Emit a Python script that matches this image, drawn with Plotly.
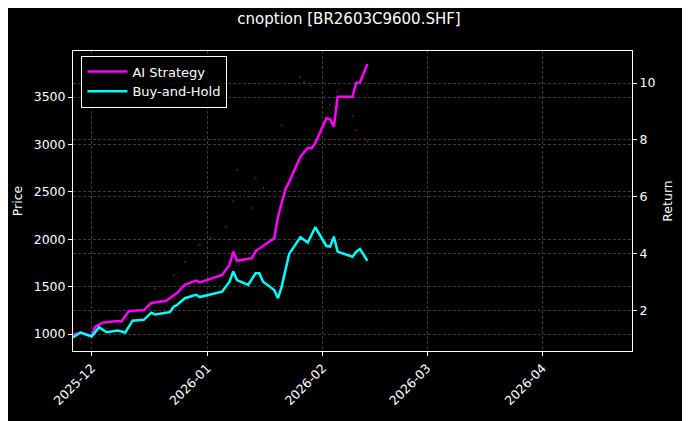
import plotly.graph_objects as go

ai_dates = ["2025-11-26","2025-11-28","2025-12-01","2025-12-02","2025-12-04","2025-12-08","2025-12-09","2025-12-11",
            "2025-12-15","2025-12-17","2025-12-21","2025-12-23","2025-12-24","2025-12-26","2025-12-29","2025-12-30",
            "2026-01-05","2026-01-07","2026-01-08","2026-01-09","2026-01-13","2026-01-14","2026-01-19","2026-01-20",
            "2026-01-22","2026-01-23","2026-01-26","2026-01-28","2026-01-29","2026-01-30","2026-02-02","2026-02-03",
            "2026-02-04","2026-02-05","2026-02-09","2026-02-10","2026-02-11","2026-02-13"]
ai_return = [1.13,1.21,1.09,1.42,1.56,1.62,1.60,1.97,2.00,2.25,2.33,2.53,2.61,2.89,3.04,2.98,
             3.24,3.59,4.06,3.74,3.83,4.08,4.53,5.29,6.26,6.52,7.40,7.72,7.70,7.88,8.76,8.73,
             8.46,9.52,9.52,10.01,10.02,10.67]

bh_dates = ["2025-11-26","2025-11-28","2025-12-01","2025-12-03","2025-12-05","2025-12-08","2025-12-10","2025-12-12",
            "2025-12-15","2025-12-17","2025-12-18","2025-12-22","2025-12-23","2025-12-24","2025-12-26","2025-12-29",
            "2025-12-30","2026-01-05","2026-01-07","2026-01-08","2026-01-09","2026-01-12","2026-01-14","2026-01-15",
            "2026-01-16","2026-01-19","2026-01-20","2026-01-21","2026-01-23","2026-01-26","2026-01-28","2026-01-30",
            "2026-02-02","2026-02-03","2026-02-04","2026-02-05","2026-02-09","2026-02-10","2026-02-11","2026-02-13"]
bh_return = [1.04,1.21,1.07,1.40,1.22,1.28,1.21,1.63,1.66,1.91,1.85,1.93,2.12,2.19,2.42,2.54,
             2.46,2.65,3.00,3.36,3.06,2.89,3.30,3.30,3.00,2.71,2.42,2.83,3.98,4.57,4.38,4.92,
             4.26,4.24,4.59,4.06,3.88,4.06,4.15,3.74]

price_dates = ["2025-11-28","2025-12-05","2025-12-12","2025-12-18","2025-12-23","2025-12-26","2025-12-30","2026-01-02",
               "2026-01-06","2026-01-08","2026-01-09","2026-01-12","2026-01-13","2026-01-14","2026-01-16","2026-01-21",
               "2026-01-26","2026-01-27","2026-01-29","2026-02-03","2026-02-05","2026-02-09","2026-02-10","2026-02-13"]
price = [950,1060,1150,1480,1620,1760,1940,2010,2130,2400,2730,2450,2330,2640,2540,3200,
         3710,3660,3620,3420,3560,3300,3150,3030]

fig = go.Figure()
fig.add_trace(go.Scatter(x=price_dates, y=price, mode="markers", showlegend=False,
                         marker=dict(color="rgba(180,20,20,0.7)", size=2), yaxis="y"))
fig.add_trace(go.Scatter(x=ai_dates, y=ai_return, mode="lines", name="AI Strategy",
                         line=dict(color="#ff00ff", width=2.5), yaxis="y2"))
fig.add_trace(go.Scatter(x=bh_dates, y=bh_return, mode="lines", name="Buy-and-Hold",
                         line=dict(color="#00ffff", width=2.5), yaxis="y2"))

axcommon = dict(showline=True, linecolor="white", linewidth=1, ticks="outside", ticklen=4,
                tickcolor="white", tickfont=dict(color="white", size=12.5), zeroline=False, automargin=False,
                showgrid=True, gridcolor="rgba(110,110,110,0.55)", griddash="3px,2px", gridwidth=0.5)
fig.update_layout(
    width=682, height=413, paper_bgcolor="black", plot_bgcolor="black",
    font=dict(family="DejaVu Sans", color="white", size=12),
    margin=dict(l=65, r=58, t=43, b=70),
    title=dict(text="cnoption [BR2603C9600.SHF]", x=0.5, xanchor="center", y=0.975, yanchor="middle",
               font=dict(size=15, color="white")),
    xaxis=dict(range=["2025-11-26", "2026-04-25"], type="date",
               tickvals=["2025-12-01","2026-01-01","2026-02-01","2026-03-01","2026-04-01"],
               ticktext=["2025-12","2026-01","2026-02","2026-03","2026-04"], tickangle=-45,
               mirror=True, **axcommon),
    yaxis=dict(range=[821, 3986], title=dict(text="Price", font=dict(color="white", size=12.5), standoff=8),
               tickvals=[1000,1500,2000,2500,3000,3500], **axcommon),
    yaxis2=dict(range=[0.56, 11.13], overlaying="y", side="right",
                title=dict(text="Return", font=dict(color="white", size=12.5), standoff=8),
                tickvals=[2,4,6,8,10], **axcommon),
    legend=dict(x=0.015, y=0.985, xanchor="left", yanchor="top", bgcolor="rgba(0,0,0,0.8)",
                bordercolor="white", borderwidth=1, font=dict(color="white", size=13),
                tracegroupgap=0, itemwidth=40),
)
fig.write_html("out.html")
